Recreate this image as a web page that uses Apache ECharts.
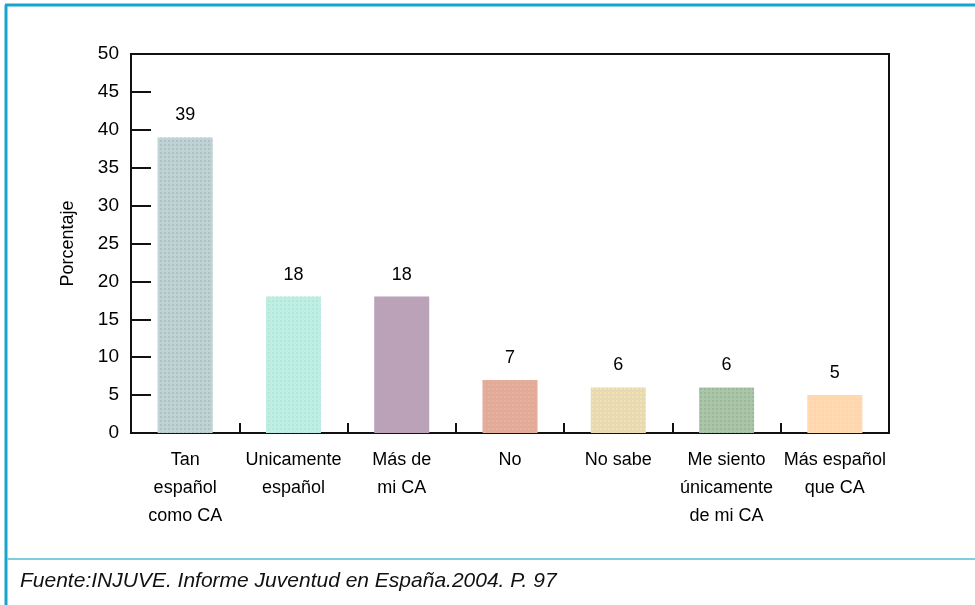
<!DOCTYPE html>
<html>
<head>
<meta charset="utf-8">
<script src="https://cdn.jsdelivr.net/npm/echarts@6/dist/echarts.min.js"></script>
<style>
  html, body { margin: 0; padding: 0; background: #fff; }
  #chart { width: 975px; height: 605px; }
</style>
</head>
<body>
<div id="chart"></div>
<script>
// datos
const categorias = ['Tan\nespañol\ncomo CA', 'Unicamente\nespañol', 'Más de\nmi CA', 'No', 'No sabe', 'Me siento\núnicamente\nde mi CA', 'Más español\nque CA'];
const porcentajes = [39, 18, 18, 7, 6, 6, 5];
const fuente = 'Fuente:INJUVE. Informe Juventud en España.2004. P. 97';

// colores de relleno (base + puntos)
const colores = ['#c0d3d4', '#c0efe2', '#b9a3b6', '#e2aa98', '#e9d8b4', '#a9c7a6', '#ffd6b0'];
const puntos = ['rgba(120,120,120,0.55)', 'rgba(140,215,235,0.8)', 'rgba(215,140,205,0.55)',
                'rgba(245,205,160,0.7)', 'rgba(252,252,170,0.9)', 'rgba(115,115,125,0.55)', 'rgba(255,240,170,0.9)'];

const fuenteTxt = "'Liberation Sans', Arial, sans-serif";

const chart = echarts.init(document.getElementById('chart'), null, { renderer: 'canvas' });

const option = {
  backgroundColor: '#fff',
  animation: false,
  grid: {
    left: 131, top: 54, right: 86, bottom: 172,
    show: true, borderColor: '#111', borderWidth: 2, backgroundColor: 'transparent'
  },
  xAxis: {
    type: 'category',
    data: categorias,
    axisLine: { lineStyle: { color: '#111', width: 2 } },
    axisTick: { show: true, inside: true, length: 10, lineStyle: { color: '#111', width: 2 } },
    axisLabel: { color: '#000', fontFamily: fuenteTxt, fontSize: 18, lineHeight: 28, margin: 13, interval: 0 }
  },
  yAxis: {
    type: 'value',
    min: 0, max: 50, interval: 5,
    name: 'Porcentaje',
    nameLocation: 'middle',
    nameGap: 54,
    nameTextStyle: { color: '#000', fontFamily: fuenteTxt, fontSize: 18 },
    splitLine: { show: false },
    axisLine: { show: true, lineStyle: { color: '#111', width: 2 } },
    axisTick: { show: true, inside: true, length: 20, lineStyle: { color: '#111', width: 2 } },
    axisLabel: { color: '#000', fontFamily: fuenteTxt, fontSize: 19, margin: 12 }
  },
  series: [{
    type: 'bar',
    barWidth: 55,
    data: porcentajes.map((v, i) => ({
      value: v,
      itemStyle: {
        color: colores[i],
        decal: {
          symbol: 'circle', symbolSize: 0.7,
          color: puntos[i],
          dashArrayX: [2, 2], dashArrayY: [2, 2]
        }
      }
    })),
    label: {
      show: true, position: 'top', distance: 13,
      color: '#000', fontFamily: fuenteTxt, fontSize: 18
    }
  }],
  graphic: [
    { type: 'line', shape: { x1: 6, y1: 5, x2: 6, y2: 605 }, style: { stroke: '#17a5cf', lineWidth: 3 } },
    { type: 'line', shape: { x1: 5, y1: 5, x2: 975, y2: 5 }, style: { stroke: '#17a5cf', lineWidth: 3 } },
    { type: 'line', shape: { x1: 7, y1: 559, x2: 975, y2: 559 }, style: { stroke: '#7ccde0', lineWidth: 2 } },
    {
      type: 'text', left: 20, top: 571,
      style: { text: fuente, fill: '#111', font: "italic 21px 'Liberation Sans', Arial, sans-serif" }
    }
  ]
};

chart.setOption(option);
</script>
</body>
</html>
